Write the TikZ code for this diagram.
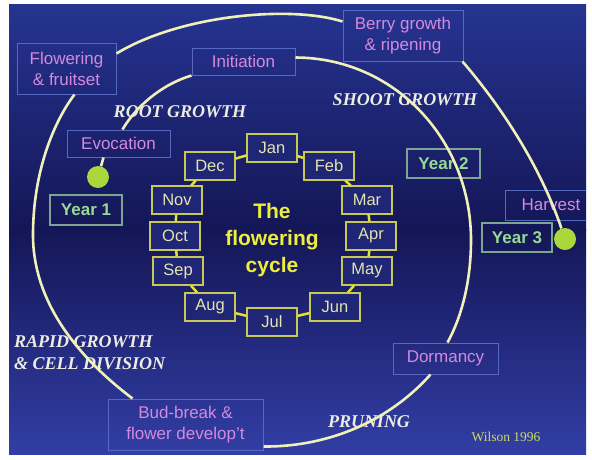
\documentclass[tikz,border=0pt]{standalone}
\usepackage{fontspec}
\setmainfont{Liberation Sans}
\newfontfamily\serf{Liberation Serif}
\usetikzlibrary{calc}
\definecolor{bgtop}{RGB}{38,52,145}
\definecolor{bgmid}{RGB}{20,22,86}
\definecolor{bgbot}{RGB}{50,62,165}
\definecolor{phaseb}{RGB}{85,105,195}
\definecolor{phaset}{RGB}{212,138,220}
\definecolor{yearb}{RGB}{125,165,145}
\definecolor{yeart}{RGB}{150,218,150}
\definecolor{monb}{RGB}{200,200,85}
\definecolor{monf}{RGB}{32,38,118}
\definecolor{mont}{RGB}{228,228,175}
\definecolor{monl}{RGB}{225,225,60}
\definecolor{dotc}{RGB}{170,215,60}
\definecolor{curvec}{RGB}{240,240,185}
\definecolor{italc}{RGB}{236,236,226}
\definecolor{titc}{RGB}{238,238,60}
\definecolor{wilc}{RGB}{200,220,100}
\begin{document}
\begin{tikzpicture}[x=1pt,y=-1pt,
  phase/.style={draw=phaseb, line width=1pt, text=phaset, inner sep=0pt, align=center, font=\fontsize{17}{21}\selectfont},
  yr/.style={draw=yearb, line width=1.2pt, text=yeart, inner sep=0pt, font=\bfseries\fontsize{17}{20}\selectfont},
  mon/.style={draw=monb, line width=1.2pt, fill=monf, text=mont, minimum width=50pt, minimum height=28pt, inner sep=0pt, font=\fontsize{16.5}{20}\selectfont},
  dotn/.style={circle, fill=dotc, minimum size=22pt, inner sep=0pt},
  cyc/.style={draw=curvec, line width=2.6pt},
  mlink/.style={draw=monl, line width=2.5pt},
  ital/.style={text=italc, font=\serf\bfseries\itshape\fontsize{18}{22}\selectfont, inner sep=0pt}
]
\useasboundingbox (0,0) rectangle (592,459);
\fill[white] (0,0) rectangle (592,459);
\shade[top color=bgtop, bottom color=bgmid] (9,4) rectangle (586,230);
\shade[top color=bgmid, bottom color=bgbot] (9,229.5) rectangle (586,454);

% italic labels
\node[ital] (root) at (180,112) {ROOT GROWTH};
\node[ital] (shoot) at (405,100) {SHOOT GROWTH};
\node[ital, align=left, anchor=west] (rapid) at (14,353) {RAPID GROWTH\\\& CELL DIVISION};
\node[ital] (prune) at (369,422) {PRUNING};
\node[text=wilc, font=\serf\fontsize{13.5}{15}\selectfont, inner sep=0pt] (wil) at (506,437) {Wilson 1996};

% phase boxes
\node[phase, minimum width=99pt, minimum height=51pt] (flower) at (66.5,68.5) {Flowering\\\& fruitset};
\node[phase, minimum width=103pt, minimum height=27pt] (init) at (243.5,61.5) {Initiation};
\node[phase, minimum width=120pt, minimum height=51pt] (berry) at (403,35.5) {Berry growth\\\& ripening};
\node[phase, minimum width=103pt, minimum height=27pt] (evoc) at (118.5,143.5) {Evocation};
\begin{scope}
\clip (9,4) rectangle (586,454);
\node[phase, minimum width=92pt, minimum height=30pt] (harv) at (551,205) {Harvest};
\end{scope}
\node[phase, minimum width=105pt, minimum height=31pt] (dorm) at (445.5,358.5) {Dormancy};
\node[phase, minimum width=155pt, minimum height=51pt] (bud) at (185.5,424.5) {Bud-break \&\\flower develop't};

% years
\node[yr, minimum width=72pt, minimum height=30pt] (y1) at (86,210) {Year 1};
\node[yr, minimum width=73pt, minimum height=29pt] (y2) at (443.5,163.5) {Year 2};
\node[yr, minimum width=70pt, minimum height=29pt] (y3) at (517,237.5) {Year 3};

% dots
\node[dotn] (dot1) at (98,177) {};
\node[dotn] (dot3) at (565,239) {};

% cycle curves
\draw[cyc] (dot1) -- ([xshift=-15pt]evoc.south);
\draw[cyc] ([xshift=4pt]evoc.north) .. controls (135,108) and (160,85) .. (init.south west);
\draw[cyc] ($(init.east)+(0,-4)$) .. controls (395,58) and (471,140) .. (471,240) .. controls (471,285) and (460,320) .. ($(dorm.north)+(2,0)$);
\draw[cyc] ($(dorm.south)+(-15,0)$) .. controls (390,420) and (330,447) .. ($(bud.east)+(0,22)$);
\draw[cyc] ($(bud.north west)+(25,0)$) .. controls (75,355) and (33,300) .. (33,235) .. controls (33,170) and (55,120) .. ($(flower.south west)+(58,0)$);
\draw[cyc] ($(flower.east)+(0,-15)$) .. controls (180,15) and (290,5) .. ($(berry.west)+(0,-14)$);
\draw[cyc] ($(berry.south east)+(-1,0)$) .. controls (500,105) and (540,165) .. (dot3);

% months
\node[mon] (jan) at (272,148) {Jan};
\node[mon] (feb) at (329,166) {Feb};
\node[mon] (mar) at (367,200) {Mar};
\node[mon] (apr) at (371,236) {Apr};
\node[mon] (may) at (367,271) {May};
\node[mon] (jun) at (335,307) {Jun};
\node[mon] (jul) at (272,322) {Jul};
\node[mon] (aug) at (210,307) {Aug};
\node[mon] (sep) at (178,271) {Sep};
\node[mon] (oct) at (175,236) {Oct};
\node[mon] (nov) at (177,200) {Nov};
\node[mon] (dec) at (210,166) {Dec};
\foreach \a/\b in {jan/feb,feb/mar,mar/apr,apr/may,may/jun,jun/jul,jul/aug,aug/sep,sep/oct,oct/nov,nov/dec,dec/jan}
  \draw[mlink] (\a) -- (\b);

\node[text=titc, font=\bfseries\fontsize{21}{27}\selectfont, align=center, inner sep=0pt] (title) at (272,240) {The\\flowering\\cycle};
\end{tikzpicture}
\end{document}
